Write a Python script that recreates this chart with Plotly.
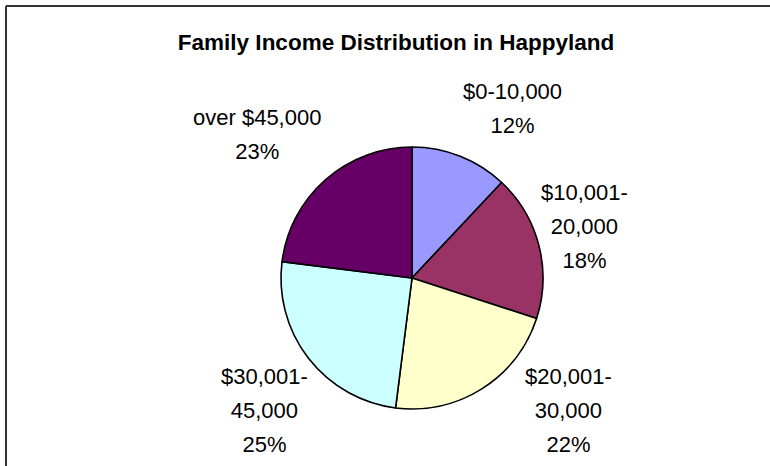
import plotly.graph_objects as go

categories = ["$0-10,000", "$10,001-20,000", "$20,001-30,000", "$30,001-45,000", "over $45,000"]
label_lines = [["$0-10,000"], ["$10,001-", "20,000"], ["$20,001-", "30,000"], ["$30,001-", "45,000"], ["over $45,000"]]
shares = [12, 18, 22, 25, 23]
colors = ["#9999FF", "#993366", "#FFFFCC", "#CCFFFF", "#660066"]

# label block centres (pixels) - layout only
label_pos = [(512.5, 109), (584, 226), (568, 410), (264, 410), (257, 134)]

W, H = 770, 466
cx, cy, r = 412, 278, 131
FONT = "Liberation Sans, Arial, sans-serif"
span = "<span style='font-size:22px'>{}</span>"

fig = go.Figure(go.Pie(
    labels=categories,
    values=shares,
    textinfo="none",
    sort=False,
    direction="clockwise",
    rotation=0,
    marker=dict(colors=colors, line=dict(color="black", width=1.6)),
    domain=dict(x=[(cx - r) / W, (cx + r) / W], y=[(H - cy - r) / H, (H - cy + r) / H]),
    showlegend=False,
    hoverinfo="label+percent",
))

total = sum(shares)
annotations = []
for lines, val, (px, py) in zip(label_lines, shares, label_pos):
    pct = f"{round(100 * val / total)}%"
    txt = "<br>".join(span.format(s) for s in lines + [pct])
    annotations.append(dict(
        text=txt, x=px / W, y=1 - py / H, xref="paper", yref="paper",
        xanchor="center", yanchor="middle", align="center", showarrow=False,
        font=dict(family=FONT, size=26, color="black"),
    ))

fig.update_layout(
    width=W, height=H,
    margin=dict(l=0, r=0, t=0, b=0),
    paper_bgcolor="white",
    plot_bgcolor="white",
    title=dict(
        text="<b>Family Income Distribution in Happyland</b>",
        x=396 / W, xanchor="center",
        y=1 - 42.5 / H, yanchor="middle",
        font=dict(family=FONT, size=22.5, color="black"),
    ),
    annotations=annotations,
    shapes=[
        dict(type="line", xref="paper", yref="paper", x0=6 / W, x1=1, y0=1 - 6 / H, y1=1 - 6 / H,
             line=dict(color="#333333", width=2)),
        dict(type="line", xref="paper", yref="paper", x0=6 / W, x1=6 / W, y0=0, y1=1 - 6 / H,
             line=dict(color="#333333", width=2)),
    ],
)

fig.write_html("out.html", config={"displayModeBar": False},
               post_script="document.body.style.margin='0px';")
